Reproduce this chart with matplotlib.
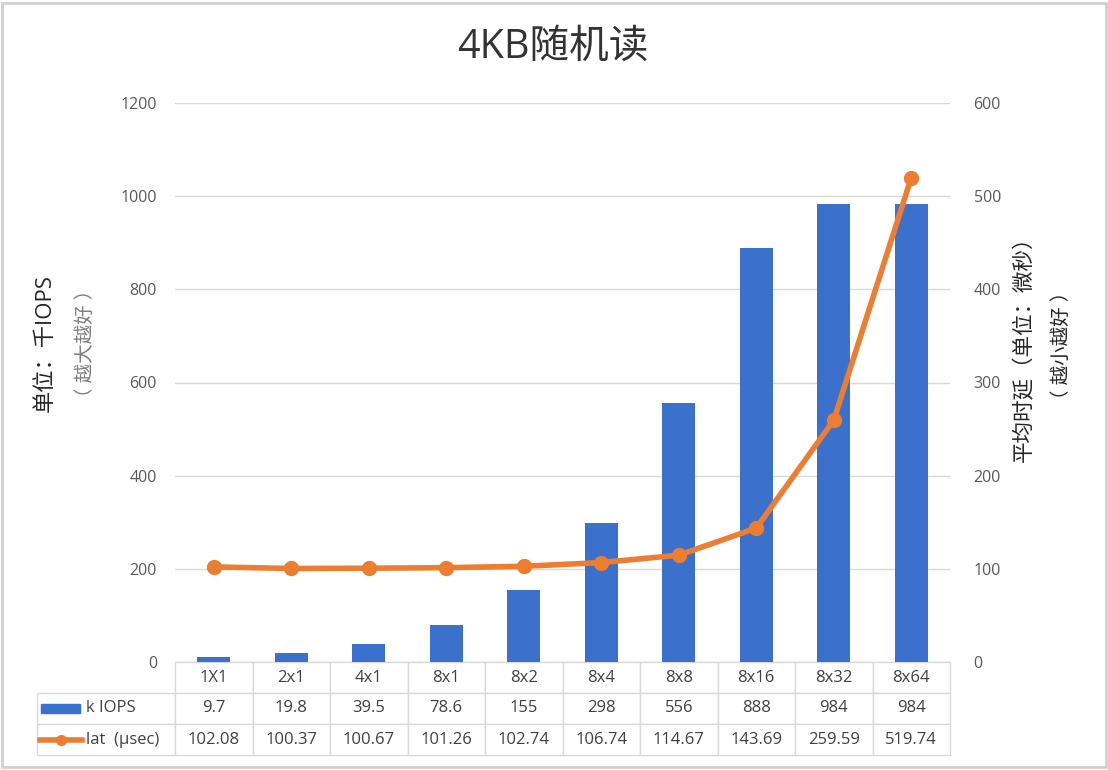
import matplotlib.pyplot as plt
from matplotlib.table import Table
from matplotlib.patches import Rectangle
from matplotlib.lines import Line2D

plt.rcParams['font.family'] = ['Open Sans', 'Noto Sans CJK SC', 'DejaVu Sans']

# data
categories = ['1X1', '2x1', '4x1', '8x1', '8x2', '8x4', '8x8', '8x16', '8x32', '8x64']
kiops = [9.7, 19.8, 39.5, 78.6, 155, 298, 556, 888, 984, 984]
lat = [102.08, 100.37, 100.67, 101.26, 102.74, 106.74, 114.67, 143.69, 259.59, 519.74]
kiops_text = ['9.7', '19.8', '39.5', '78.6', '155', '298', '556', '888', '984', '984']
lat_text = ['102.08', '100.37', '100.67', '101.26', '102.74', '106.74', '114.67', '143.69', '259.59', '519.74']
left_ticks = [0, 200, 400, 600, 800, 1000, 1200]
right_ticks = [0, 100, 200, 300, 400, 500, 600]

blue = '#3b70cc'
orange = '#ed7d31'
grid_c = '#d9d9d9'
tick_c = '#595959'

W, H = 1108, 770
fig = plt.figure(figsize=(W / 100, H / 100), dpi=100)
fig.patch.set_facecolor('white')

ax = fig.add_axes([175 / W, 108 / H, 775 / W, 559 / H])
x = list(range(len(categories)))
ax.bar(x, kiops, width=0.42, color=blue, zorder=2)
ax.set_xlim(-0.5, len(categories) - 0.5)
ax.set_ylim(0, 1200)
ax.set_yticks(left_ticks)
ax.set_xticks([])
ax.grid(axis='y', color=grid_c, lw=1)
ax.set_axisbelow(True)
for s in ax.spines.values():
    s.set_visible(False)
ax.tick_params(axis='y', length=0, labelcolor=tick_c, labelsize=11.5, pad=13)

ax2 = ax.twinx()
ax2.plot(x, lat, color=orange, lw=4, marker='o', ms=10, zorder=3)
ax2.set_ylim(0, 600)
ax2.set_yticks(right_ticks)
for s in ax2.spines.values():
    s.set_visible(False)
ax2.tick_params(axis='y', length=0, labelcolor=tick_c, labelsize=11.5, pad=17)

# data table under the plot (sizes in axes fractions)
row_h = 31 / 559
tb = Table(ax, bbox=[0, -3 * row_h, 1, 3 * row_h])
cw = 1 / len(categories)
lw_ = 138 / 775
for j, c in enumerate(categories):
    tb.add_cell(0, j, width=cw, height=row_h, text=c, loc='center')
    tb.add_cell(1, j, width=cw, height=row_h, text=kiops_text[j], loc='center')
    tb.add_cell(2, j, width=cw, height=row_h, text=lat_text[j], loc='center')
c1 = tb.add_cell(1, -1, width=lw_, height=row_h, text='k IOPS', loc='left')
c2 = tb.add_cell(2, -1, width=lw_, height=row_h, text='lat  (µsec)', loc='left')
c1.PAD = 0.355
c2.PAD = 0.355
tb.auto_set_font_size(False)
tb.set_fontsize(12)
for cell in tb.get_celld().values():
    cell.set_edgecolor(grid_c)
    cell.set_linewidth(1)
    cell.get_text().set_color('#404040')
ax.add_table(tb)

# legend keys inside the table
fig.add_artist(Rectangle((41 / W, 1 - 713 / H), 39 / W, 9 / H,
                         transform=fig.transFigure, color=blue))
fig.add_artist(Line2D([40 / W, 82 / W], [1 - 740 / H] * 2,
                      transform=fig.transFigure, color=orange, lw=4))
fig.add_artist(Line2D([61 / W], [1 - 740 / H], transform=fig.transFigure,
                      color=orange, marker='o', ms=7))

# title and axis labels
fig.text(553 / W, 1 - 47 / H, '4KB随机读', ha='center', va='center',
         fontsize=28.5, color='#333333')
fig.text(45 / W, 1 - 343 / H, '单位：千IOPS', rotation=90, ha='center', va='center',
         fontsize=16, color='#262626')
fig.text(86 / W, 1 - 343 / H, '（ 越大越好 ）', rotation=90, ha='center', va='center',
         fontsize=14, color='#7f7f7f')
fig.text(1025 / W, 1 - 344 / H, '平均时延（单位：微秒）', rotation=90, ha='center', va='center',
         fontsize=15.5, color='#262626')
fig.text(1062 / W, 1 - 345 / H, '（ 越小越好 ）', rotation=90, ha='center', va='center',
         fontsize=14, color='#262626')

fig.add_artist(Rectangle((0.002, 0.004), 0.996, 0.992, transform=fig.transFigure,
                         fill=False, edgecolor='#d0d0d0', lw=2))

fig.savefig('out.png', dpi=100)
